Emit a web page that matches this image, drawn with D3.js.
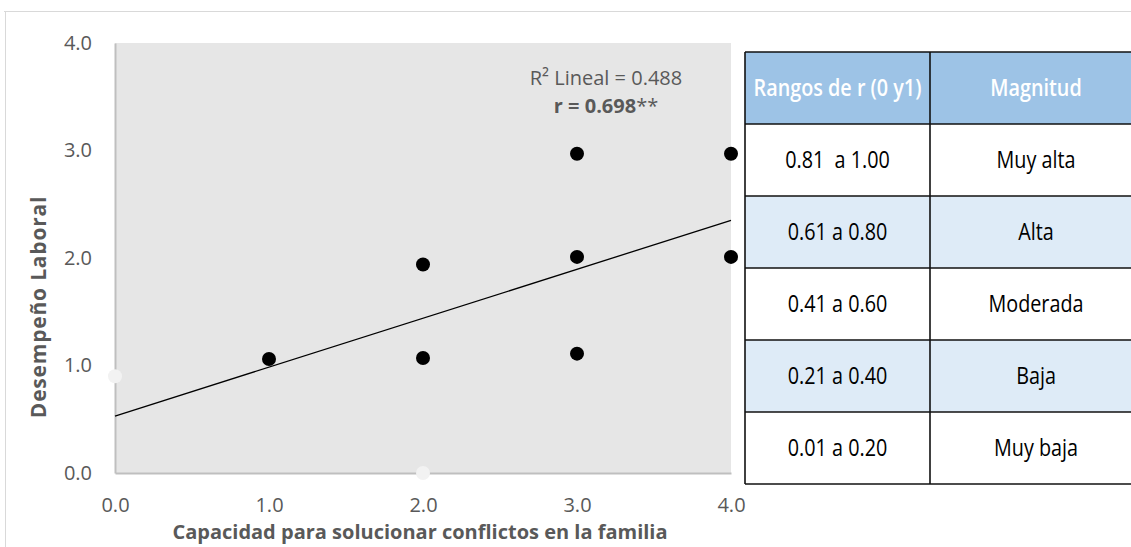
<!DOCTYPE html>
<html>
<head>
<meta charset="utf-8">
<script src="https://cdn.jsdelivr.net/npm/d3@7"></script>
<style>
  body { margin: 0; background: #fff; }
  svg { display: block; }
</style>
</head>
<body>
<div id="chart"></div>
<script>
// Data
const xValues = [1, 2, 2, 3, 3, 3, 4, 4];
const yValues = [1.06, 1.94, 1.07, 2.97, 2.01, 1.11, 2.97, 2.01];
// points drawn faintly (on the axes)
const faintX = [0, 2];
const faintY = [0.9, 0];
const trendIntercept = 0.53;
const trendSlope = 0.455;
const tickValues = [0, 1, 2, 3, 4];
const tableHeader = ['Rangos de r (0 y1)', 'Magnitud'];
const tableRanges = ['0.81  a 1.00', '0.61 a 0.80', '0.41 a 0.60', '0.21 a 0.40', '0.01 a 0.20'];
const tableMagnitudes = ['Muy alta', 'Alta', 'Moderada', 'Baja', 'Muy baja'];

const width = 1131, height = 547;
const svg = d3.select('#chart').append('svg')
  .attr('width', width)
  .attr('height', height);

// outer frame of the picture
svg.append('line').attr('x1', 4).attr('x2', width).attr('y1', 11.5).attr('y2', 11.5)
  .attr('stroke', '#d9d9d9').attr('stroke-width', 1);
svg.append('line').attr('x1', 5.5).attr('x2', 5.5).attr('y1', 11).attr('y2', height)
  .attr('stroke', '#d9d9d9').attr('stroke-width', 1);

const x = d3.scaleLinear().domain([0, 4]).range([115, 731]);
const y = d3.scaleLinear().domain([0, 4]).range([473, 43]);

// plot background
svg.append('rect')
  .attr('x', x(0)).attr('y', y(4))
  .attr('width', x(4) - x(0)).attr('height', y(0) - y(4))
  .attr('fill', '#e6e6e6');

const fmt = d3.format('.1f');
const font = "'Open Sans', sans-serif";

const xAxis = svg.append('g')
  .attr('transform', `translate(0,${y(0)})`)
  .call(d3.axisBottom(x).tickValues(tickValues).tickFormat(fmt).tickSize(0).tickPadding(25));
const yAxis = svg.append('g')
  .attr('transform', `translate(${x(0)},0)`)
  .call(d3.axisLeft(y).tickValues(tickValues).tickFormat(fmt).tickSize(0).tickPadding(23));

[xAxis, yAxis].forEach(a => {
  a.select('.domain').attr('stroke', '#bfbfbf').attr('stroke-width', 2);
  a.selectAll('text')
    .style('font-family', font)
    .style('font-size', '20px')
    .attr('fill', '#595959');
});

// faint points on axes
svg.append('g').selectAll('circle')
  .data(faintX.map((d, i) => [d, faintY[i]]))
  .join('circle')
  .attr('cx', d => x(d[0]))
  .attr('cy', d => y(d[1]))
  .attr('r', 7)
  .attr('fill', '#f2f2f2');

// trend line
svg.append('line')
  .attr('x1', x(0)).attr('y1', y(trendIntercept))
  .attr('x2', x(4)).attr('y2', y(trendIntercept + trendSlope * 4))
  .attr('stroke', '#000')
  .attr('stroke-width', 1.3);

// points
svg.append('g').selectAll('circle')
  .data(xValues.map((d, i) => [d, yValues[i]]))
  .join('circle')
  .attr('cx', d => x(d[0]))
  .attr('cy', d => y(d[1]))
  .attr('r', 7)
  .attr('fill', '#000');

// annotation
svg.append('text')
  .attr('x', 606).attr('y', 85)
  .attr('text-anchor', 'middle')
  .style('font-family', font).style('font-size', '20px')
  .attr('fill', '#595959')
  .text('R² Lineal = 0.488');
svg.append('text')
  .attr('x', 606).attr('y', 113)
  .attr('text-anchor', 'middle')
  .style('font-family', font).style('font-size', '20px')
  .attr('fill', '#595959')
  .call(t => {
    t.append('tspan').style('font-weight', 'bold').text('r = 0.698');
    t.append('tspan').text('**');
  });

// axis titles
svg.append('text')
  .attr('x', 420).attr('y', 539)
  .attr('text-anchor', 'middle')
  .style('font-family', font).style('font-size', '20px').style('font-weight', 'bold')
  .attr('fill', '#595959')
  .text('Capacidad para solucionar conflictos en la familia');
svg.append('text')
  .attr('transform', 'translate(46,307) rotate(-90)')
  .attr('text-anchor', 'middle')
  .style('font-family', font).style('font-size', '21px').style('font-weight', 'bold')
  .style('letter-spacing', '0.8px')
  .attr('fill', '#595959')
  .text('Desempeño Laboral');

// table of ranges
const colX = [745, 930, 1142];
const rowY = d3.range(7).map(i => 52 + i * 72);
const table = svg.append('g');
const tfont = "'Open Sans', sans-serif";

function cellText(t, cx, cy, size, weight, color) {
  table.append('text')
    .attr('transform', `translate(${cx},${cy}) scale(0.86,1)`)
    .attr('dy', '0.36em')
    .attr('text-anchor', 'middle')
    .style('font-family', tfont).style('font-size', size + 'px').style('font-weight', weight)
    .style('white-space', 'pre')
    .attr('fill', color)
    .text(t);
}

// header
table.append('rect')
  .attr('x', colX[0]).attr('y', rowY[0])
  .attr('width', colX[2] - colX[0]).attr('height', rowY[1] - rowY[0])
  .attr('fill', '#9dc3e6');
tableHeader.forEach((h, i) => {
  cellText(h, (colX[i] + colX[i + 1]) / 2, (rowY[0] + rowY[1]) / 2, 23, 600, '#fff');
});

tableRanges.forEach((r, i) => {
  const y0 = rowY[i + 1], y1 = rowY[i + 2];
  table.append('rect')
    .attr('x', colX[0]).attr('y', y0)
    .attr('width', colX[2] - colX[0]).attr('height', y1 - y0)
    .attr('fill', i % 2 === 1 ? '#deebf7' : '#fff');
  [r, tableMagnitudes[i]].forEach((t, j) => {
    cellText(t, (colX[j] + colX[j + 1]) / 2, (y0 + y1) / 2, 23, 400, '#000');
  });
});

// grid lines of the table
rowY.forEach(yy => {
  table.append('line')
    .attr('x1', colX[0]).attr('x2', colX[2])
    .attr('y1', yy).attr('y2', yy)
    .attr('stroke', '#111').attr('stroke-width', 1.6);
});
colX.forEach(xx => {
  table.append('line')
    .attr('x1', xx).attr('x2', xx)
    .attr('y1', rowY[0]).attr('y2', rowY[6])
    .attr('stroke', '#111').attr('stroke-width', 1.6);
});
</script>
</body>
</html>
